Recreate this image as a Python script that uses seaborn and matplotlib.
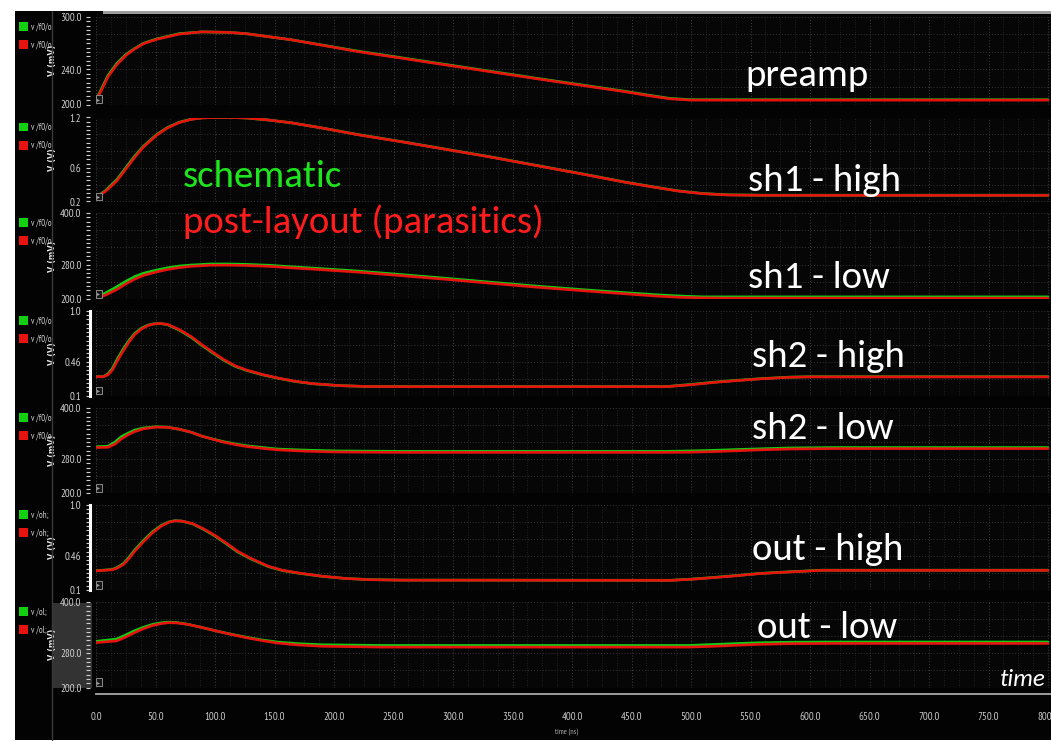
import matplotlib
matplotlib.use("Agg")
import matplotlib.pyplot as plt
from matplotlib.patches import Patch, Rectangle
from matplotlib.lines import Line2D
from matplotlib.ticker import FixedLocator, MultipleLocator
import numpy as np
import pandas as pd
import seaborn as sns

# ---------------- transient waveforms (time in ns) ----------------
preamp_t = [0, 5, 10, 17.5, 25, 32.5, 40, 51, 70, 89, 110, 126, 164, 220, 295,
            370, 445, 465, 482, 500, 520, 800]
preamp_sch = [205, 219, 233, 247, 257, 264, 270, 275, 281, 283, 282.5, 281, 274,
              261, 245.5, 230, 215, 210.5, 207, 205.5, 205.5, 205.5]
preamp_post = [204.5, 217.5, 231.5, 245.5, 256, 263.5, 269.5, 274.5, 280.5, 283,
               282.5, 281, 274, 260.5, 245, 229.5, 214.5, 210, 206.5, 205, 205, 205]

sh1h_t = [0, 8, 17.5, 25, 32.5, 40, 51, 60, 70, 80, 89, 100, 113, 126, 145, 164,
          190, 220, 260, 295, 330, 370, 410, 445, 470, 490, 510, 530, 560, 800]
sh1h_sch = [0.25, 0.33, 0.46, 0.60, 0.74, 0.86, 0.997, 1.08, 1.144, 1.18, 1.196,
            1.20, 1.20, 1.195, 1.17, 1.137, 1.075, 0.997, 0.905, 0.82, 0.735, 0.63,
            0.525, 0.43, 0.37, 0.325, 0.295, 0.28, 0.275, 0.275]
sh1h_post = [0.25, 0.32, 0.445, 0.585, 0.725, 0.85, 0.99, 1.075, 1.14, 1.178, 1.195,
             1.20, 1.20, 1.195, 1.17, 1.137, 1.075, 0.995, 0.903, 0.818, 0.733, 0.628,
             0.523, 0.428, 0.368, 0.323, 0.293, 0.278, 0.273, 0.273]

sh1l_t = [0, 8, 17.5, 25, 32.5, 40, 51, 60, 70, 80, 96, 110, 126, 145, 164, 190,
          220, 260, 295, 330, 370, 410, 445, 470, 490, 510, 530, 800]
sh1l_sch = [203, 214, 228.6, 241, 252, 260, 267.4, 272.5, 276.7, 279, 281.4, 281.5,
            280.6, 278.5, 275, 270.5, 265, 256, 248, 239.5, 230, 221.5, 214.7, 210,
            207, 205, 205, 205]
sh1l_post = [202, 209, 222, 235, 246, 255, 263, 268.5, 273, 276, 278.5, 278.7, 278,
             276, 272.5, 268, 262.5, 253.5, 245.5, 237, 227.5, 219, 212, 207, 204,
             202.5, 202, 202]

sh2h_t = [0, 6, 10, 13.7, 18, 23.1, 28, 32.5, 38, 43.7, 48, 53.1, 60, 70, 80, 88.7,
          98, 107.5, 117, 126.3, 140, 152.5, 167, 182.6, 205, 227.5, 260, 479, 500,
          520, 540, 558, 583, 600, 800]
sh2h_sch = [0.30, 0.30, 0.33, 0.386, 0.49, 0.60, 0.69, 0.76, 0.815, 0.85, 0.862,
            0.868, 0.855, 0.796, 0.72, 0.636, 0.555, 0.475, 0.41, 0.368, 0.32, 0.285,
            0.25, 0.225, 0.205, 0.196, 0.195, 0.195, 0.218, 0.243, 0.263, 0.279,
            0.296, 0.30, 0.30]
sh2h_post = [0.30, 0.30, 0.32, 0.37, 0.47, 0.58, 0.675, 0.748, 0.806, 0.845, 0.86,
             0.868, 0.858, 0.802, 0.728, 0.644, 0.562, 0.482, 0.416, 0.372, 0.323,
             0.287, 0.252, 0.226, 0.205, 0.196, 0.194, 0.194, 0.214, 0.24, 0.26,
             0.277, 0.294, 0.298, 0.298]

sh2l_t = [0, 10, 16, 21.2, 27, 32.5, 40, 50.5, 60, 70, 80, 88.7, 98, 107.5, 117,
          126.3, 140, 152.5, 175, 201, 257, 479, 500, 520, 540, 558, 583, 620, 800]
sh2l_sch = [309, 310, 320, 332.5, 341, 348, 353, 356, 355, 350, 343, 334, 327,
            320.7, 315.5, 311.3, 307, 303.5, 301, 299, 298, 298, 299, 300.5, 302.5,
            304, 306, 307, 307]
sh2l_post = [307, 307.5, 315, 327, 337, 344.5, 351, 355, 354.5, 350, 343, 334,
             326.5, 319.5, 314, 309.5, 305, 301.5, 298.5, 296.5, 295.5, 295.5, 296,
             297.5, 299.5, 301.5, 303.5, 304.5, 304.5]

outh_t = [0, 13.7, 18, 23.1, 28, 32.5, 40, 47.5, 55, 61, 66.2, 72, 81.2, 90, 100,
          110, 118.8, 130, 145, 157, 171.3, 190, 208.8, 230, 257.6, 482.6, 500, 520,
          540, 558, 583, 610, 800]
outh_sch = [0.304, 0.318, 0.34, 0.38, 0.45, 0.523, 0.625, 0.717, 0.785, 0.82, 0.834,
            0.83, 0.80, 0.745, 0.672, 0.585, 0.505, 0.43, 0.347, 0.305, 0.276, 0.245,
            0.223, 0.21, 0.205, 0.203, 0.215, 0.234, 0.255, 0.276, 0.293, 0.31, 0.31]
outh_post = [0.303, 0.314, 0.333, 0.37, 0.437, 0.51, 0.612, 0.706, 0.778, 0.816,
             0.832, 0.83, 0.803, 0.75, 0.678, 0.592, 0.512, 0.436, 0.351, 0.308,
             0.278, 0.246, 0.223, 0.209, 0.204, 0.202, 0.213, 0.232, 0.253, 0.274,
             0.291, 0.308, 0.308]

outl_t = [0, 17.5, 25, 32.5, 40, 47.5, 55, 60.6, 68, 77.5, 88, 100, 113, 126.3, 140,
          152.5, 170, 190, 239, 498, 520, 540, 558, 583, 620, 800]
outl_sch = [308, 313.5, 323, 333, 341, 347.6, 351.5, 353, 352, 347.6, 341, 333, 325,
            317.5, 311, 306.4, 302.5, 300, 298.4, 298.4, 300.8, 303, 304.8, 306,
            306.5, 306.5]
outl_post = [305, 309, 318, 328.5, 337.5, 345, 349.5, 351.5, 351, 347.5, 341, 333,
             324.5, 316.5, 309.5, 304, 299.5, 296.5, 294.5, 294.5, 296.5, 299, 301,
             302.5, 303, 303]

# ---------------- labels ----------------
panel_names = ["preamp", "sh1 - high", "sh1 - low", "sh2 - high", "sh2 - low",
               "out - high", "out - low"]
trace_names = ["v /f0/o", "v /f0/o", "v /f0/o", "v /f0/o", "v /f0/o", "v /oh;", "v /ol;"]
y_units = ["V (mV)", "V (V)", "V (mV)", "V (V)", "V (mV)", "V (V)", "V (mV)"]
y_limits = [(200, 300), (0.2, 1.2), (200, 400), (0.1, 1.0), (200, 400), (0.1, 1.0),
            (200, 400)]
y_tick_values = [[200, 240, 300], [0.2, 0.6, 1.2], [200, 280, 400], [0.1, 0.46, 1.0],
                 [200, 280, 400], [0.1, 0.46, 1.0], [200, 280, 400]]
y_tick_labels = [["200.0", "240.0", "300.0"], ["0.2", "0.6", "1.2"],
                 ["200.0", "280.0", "400.0"], ["0.1", "0.46", "1.0"],
                 ["200.0", "280.0", "400.0"], ["0.1", "0.46", "1.0"],
                 ["200.0", "280.0", "400.0"]]
time_ticks = list(range(0, 801, 50))
time_tick_labels = [f"{t:.1f}" for t in time_ticks]

series = [
    (preamp_t, preamp_sch, preamp_post),
    (sh1h_t, sh1h_sch, sh1h_post),
    (sh1l_t, sh1l_sch, sh1l_post),
    (sh2h_t, sh2h_sch, sh2h_post),
    (sh2l_t, sh2l_sch, sh2l_post),
    (outh_t, outh_sch, outh_post),
    (outl_t, outl_sch, outl_post),
]

# ---------------- layout (pixels) ----------------
FIG_W, FIG_H = 1051, 741
PLOT_L, PLOT_R = 96, 1051
panel_top = [17, 117.5, 213, 311, 408, 505, 602]
panel_bottom = [104.5, 201.5, 299, 395.5, 493, 590, 687.5]
name_xy = [(745, 86), (748, 191), (748, 288), (752, 367), (752, 439), (752, 560),
           (757, 638)]
solid_axis = [False, False, False, True, False, True, False]

GREEN = "#12cf12"
RED = "#e8120e"
TXT_GREEN = "#1ee51e"
TXT_RED = "#ff1c1c"
BIG = 28
BIG_FONT = ["Carlito", "Lato", "DejaVu Sans"]
TICK_FONT = ["PT Sans Narrow", "DejaVu Sans"]


def fx(px):
    return px / FIG_W


def fy(py):
    return 1 - py / FIG_H


sns.set_theme(style="dark", rc={"axes.facecolor": "#060606",
                                "figure.facecolor": "white"})
plt.rcParams["font.family"] = ["DejaVu Sans"]

fig = plt.figure(figsize=(FIG_W / 100, FIG_H / 100), dpi=100)

# window backdrop, header strip, separator
fig.patches.append(Rectangle((fx(15), fy(740)), fx(FIG_W) - fx(15), fy(11) - fy(740),
                             transform=fig.transFigure, fc="#030303", ec="none",
                             zorder=-10))
fig.patches.append(Rectangle((fx(103), fy(13.5)), fx(FIG_W) - fx(103), fy(11) - fy(13.5),
                             transform=fig.transFigure, fc="#9c9c9c", ec="none",
                             zorder=-9))
fig.add_artist(Line2D([fx(52), fx(52)], [fy(11), fy(740)], transform=fig.transFigure,
                      color="#3a3a3a", lw=1))
# highlighted axis strip of the active subwindow
fig.patches.append(Rectangle((fx(52.5), fy(688)), fx(92) - fx(52.5), fy(603) - fy(688),
                             transform=fig.transFigure, fc="#333333", ec="none",
                             zorder=-8))

for i, (t, sch, post) in enumerate(series):
    top, bot = panel_top[i], panel_bottom[i]
    ax = fig.add_axes([fx(PLOT_L), fy(bot), fx(PLOT_R) - fx(PLOT_L), (bot - top) / FIG_H])
    df = pd.concat([
        pd.DataFrame({"time": t, "value": sch, "run": "schematic"}),
        pd.DataFrame({"time": t, "value": post, "run": "post-layout"}),
    ], ignore_index=True)
    lo, hi = y_limits[i]

    # grid
    ax.xaxis.set_major_locator(MultipleLocator(50))
    ax.xaxis.set_minor_locator(MultipleLocator(12.5))
    ax.grid(which="major", axis="x", color="#404040", ls=(0, (1, 2)), lw=0.7)
    ax.grid(which="minor", axis="x", color="#2a2a2a", ls=(0, (1, 2)), lw=0.6)
    ax.hlines(np.linspace(lo, hi, 6), 0, 802.5, colors="#353535",
              linestyles=(0, (1, 2)), lw=0.7, zorder=0.5)

    sns.lineplot(data=df, x="time", y="value", hue="run",
                 hue_order=["schematic", "post-layout"], palette=[GREEN, RED],
                 estimator=None, linewidth=1.9, legend=False, ax=ax)

    ax.set_xlim(0, 802.5)
    ax.set_ylim(lo, hi)
    ax.set_xlabel("")
    ax.tick_params(axis="x", which="both", length=0, labelbottom=False)

    # y ruler
    for s in ("top", "right", "bottom"):
        ax.spines[s].set_visible(False)
    ax.spines["left"].set_position(("outward", 4))
    if solid_axis[i]:
        ax.spines["left"].set_visible(True)
        ax.spines["left"].set_color("white")
        ax.spines["left"].set_linewidth(2.2)
    else:
        ax.spines["left"].set_visible(False)
    ax.yaxis.set_major_locator(FixedLocator(y_tick_values[i]))
    ax.set_yticklabels(y_tick_labels[i], family=TICK_FONT, fontsize=7.8,
                       color="#cfcfcf")
    ax.yaxis.set_minor_locator(FixedLocator(np.linspace(lo, hi, 21)))
    ax.tick_params(axis="y", which="both", direction="out", length=3, width=0.8,
                   color="#d0d0d0", pad=3.5, left=True)
    ax.set_ylabel(y_units[i], color="#e6e6e6", fontsize=6.5, fontweight="bold",
                  family="DejaVu Sans", fontstretch="condensed")
    ax.yaxis.set_label_coords(-0.0405, 0.5)

    # marker box in the lower-left corner
    ax.text(0.0015, 0.03, "▸", transform=ax.transAxes, ha="left", va="bottom",
            fontsize=4.2, color="#a0a0a0", family="DejaVu Sans",
            bbox=dict(boxstyle="square,pad=0.25", fc="#151515", ec="#8a8a8a", lw=0.7))

    # trace legend in the left column
    handles = [Patch(fc=GREEN, ec="none"), Patch(fc=RED, ec="none")]
    fig.legend(handles, [trace_names[i], trace_names[i]], loc="upper left",
               bbox_to_anchor=(fx(19), fy(top + 5)), frameon=False,
               handlelength=1.0, handleheight=1.2, handletextpad=0.35,
               labelspacing=1.0, borderpad=0, borderaxespad=0, labelcolor="#cfcfcf",
               prop={"family": TICK_FONT, "size": 6.3})

    nx, ny = name_xy[i]
    fig.text(fx(nx), fy(ny), panel_names[i], color="white", fontsize=BIG,
             family=BIG_FONT, va="baseline", ha="left")

# shared time ruler
ruler = fig.add_axes([fx(PLOT_L), fy(694), fx(PLOT_R) - fx(PLOT_L), 5 / FIG_H])
ruler.set_facecolor("none")
ruler.set_xlim(0, 802.5)
ruler.set_yticks([])
for s in ("top", "right", "left"):
    ruler.spines[s].set_visible(False)
ruler.spines["bottom"].set_color("#a8a8a8")
ruler.spines["bottom"].set_linewidth(1.3)
ruler.set_xticks(time_ticks)
ruler.set_xticklabels(time_tick_labels, family=TICK_FONT, fontsize=7.8, color="#c8c8c8")
ruler.xaxis.set_minor_locator(MultipleLocator(5))
ruler.tick_params(axis="x", which="major", direction="out", length=6.5, width=0.9,
                  color="#cfcfcf", pad=6.5)
ruler.tick_params(axis="x", which="minor", direction="out", length=2.8, width=0.8,
                  color="#cfcfcf")
ruler.grid(False)

mid = fig.add_axes(ruler.get_position())
mid.set_facecolor("none")
mid.set_xlim(0, 802.5)
mid.set_yticks([])
for s in mid.spines.values():
    s.set_visible(False)
mid.xaxis.set_major_locator(MultipleLocator(25))
mid.tick_params(axis="x", which="major", direction="out", length=4.5, width=0.8,
                color="#cfcfcf", labelbottom=False)
mid.grid(False)

fig.text(fx(567), fy(733), "time (ns)", color="#b0b0b0", fontsize=5.5,
         family=TICK_FONT, ha="center", va="center")

# series key and axis caption
fig.text(fx(183), fy(187), "schematic", color=TXT_GREEN, fontsize=BIG,
         family=BIG_FONT, va="baseline", ha="left")
fig.text(fx(183), fy(233), "post-layout (parasitics)", color=TXT_RED, fontsize=BIG,
         family=BIG_FONT, va="baseline", ha="left")
fig.text(fx(1000), fy(686), "time", color="white", fontsize=18, family=BIG_FONT,
         style="italic", va="baseline", ha="left")

fig.savefig("out.png", dpi=100, facecolor="white")
